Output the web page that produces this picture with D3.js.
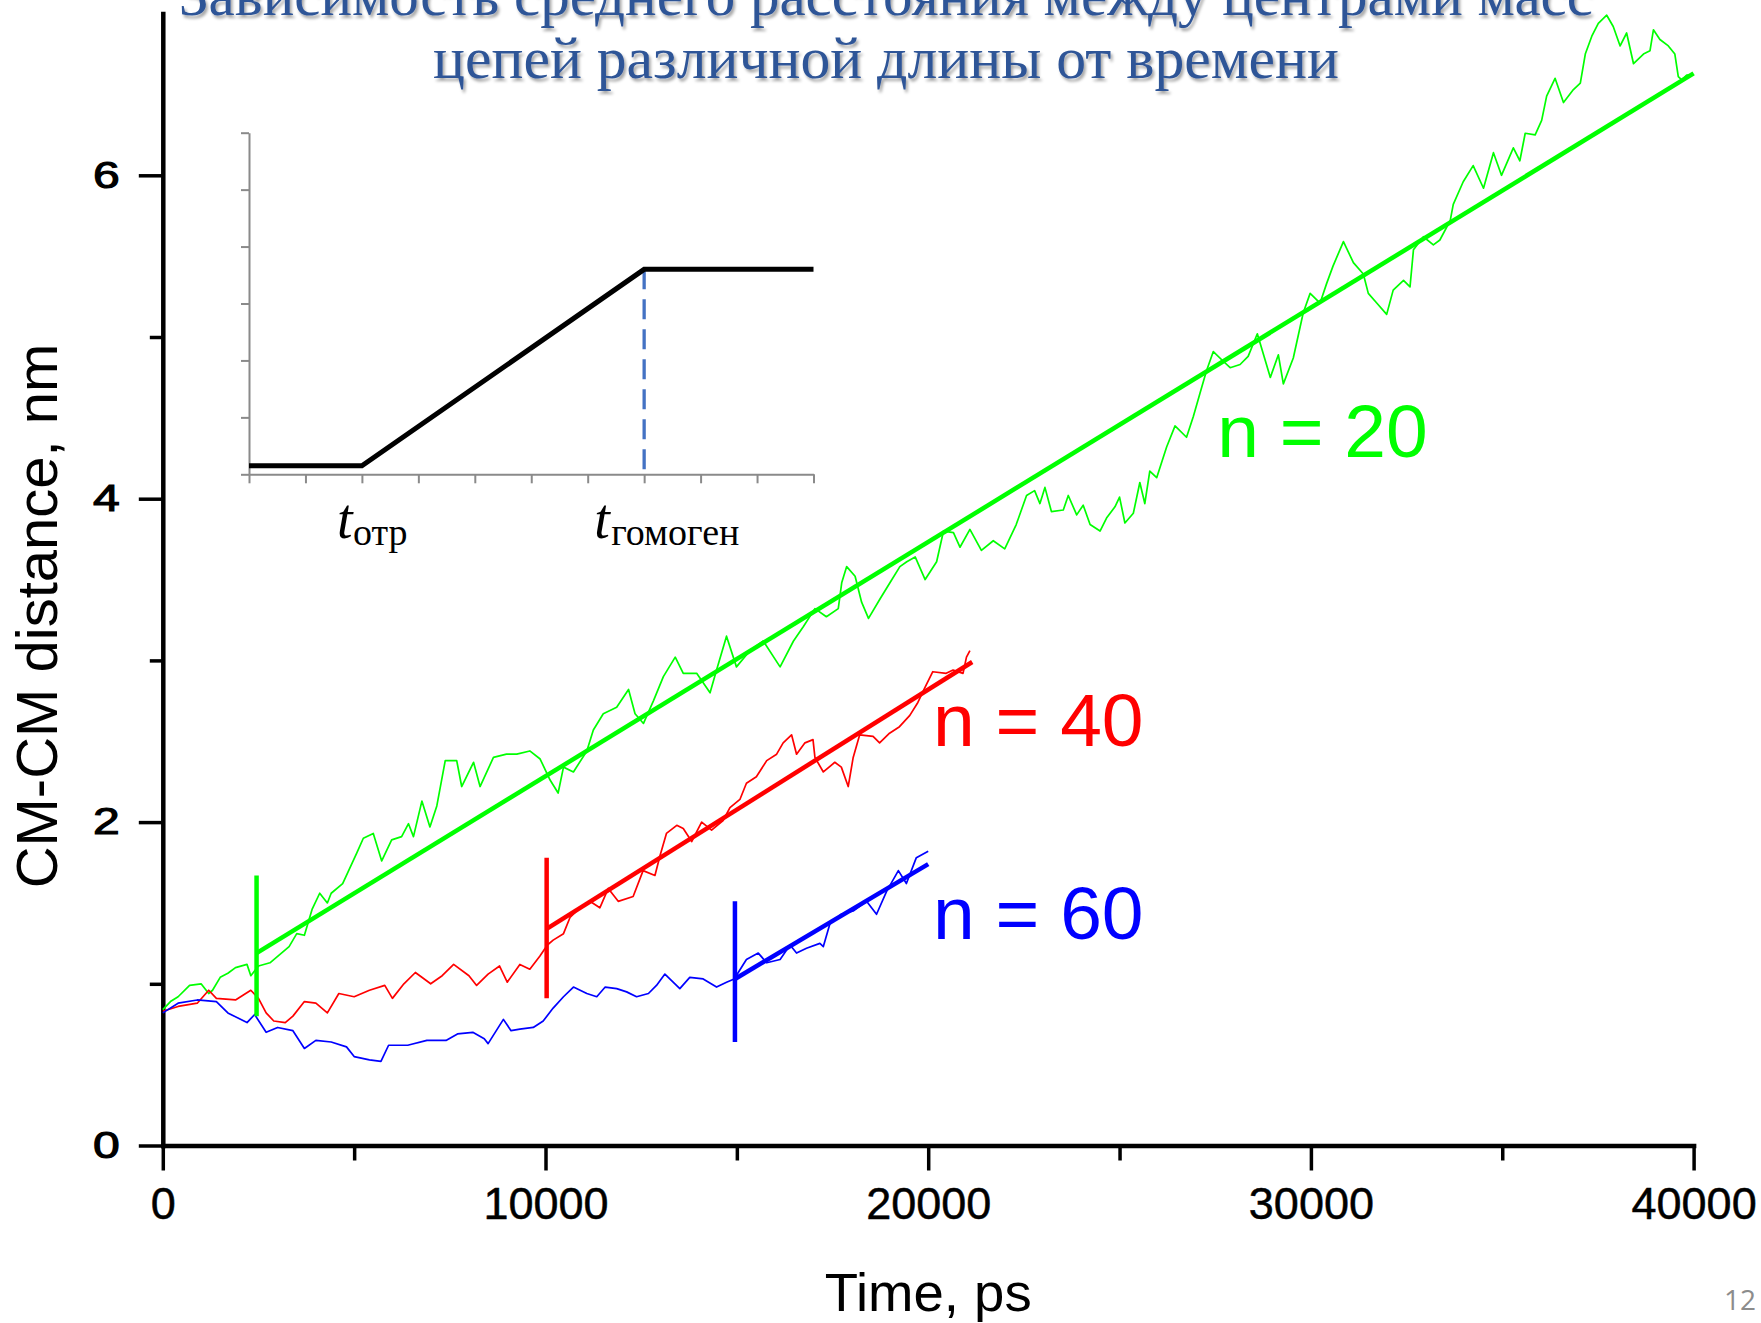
<!DOCTYPE html>
<html>
<head>
<meta charset="utf-8">
<script src="https://cdn.jsdelivr.net/npm/d3@7"></script>
<style>
body { margin: 0; background: #fff; }
svg { display: block; }
text { font-family: "Liberation Sans", Arial, sans-serif; }
</style>
</head>
<body>
<svg id="chart" width="1761" height="1323"></svg>
<script>
'use strict';

// ---- data (time in ps, distance in nm) ----
const titleLines = [
    'Зависимость среднего расстояния между центрами масс',
    'цепей различной длины от времени'
];

const xMajor = [0, 10000, 20000, 30000, 40000];
const xMinor = [5000, 15000, 25000, 35000];
const yMajor = [0, 2, 4, 6];
const yMinor = [1, 3, 5];

const n20 = [
    [0, 0.84], [200, 0.89], [400, 0.92], [700, 0.99], [1000, 1.00], [1200, 0.94], [1300, 0.96],
    [1500, 1.04], [1700, 1.065], [1900, 1.10], [2200, 1.12], [2300, 1.05], [2500, 1.11], [2800, 1.13],
    [3100, 1.19], [3300, 1.23], [3500, 1.31], [3700, 1.30], [3900, 1.46], [4100, 1.56], [4300, 1.50],
    [4400, 1.56], [4700, 1.62], [5070, 1.81], [5240, 1.90], [5500, 1.93], [5720, 1.76], [5980, 1.89],
    [6240, 1.91], [6420, 1.99], [6550, 1.91], [6770, 2.13], [6980, 1.97], [7160, 2.10], [7380, 2.38],
    [7680, 2.38], [7810, 2.22], [8120, 2.37], [8290, 2.22], [8640, 2.40], [8980, 2.42], [9250, 2.42],
    [9590, 2.44], [9860, 2.39], [10120, 2.26], [10330, 2.18], [10470, 2.34], [10730, 2.31], [11080, 2.44],
    [11250, 2.57], [11510, 2.67], [11860, 2.71], [12170, 2.82], [12340, 2.67], [12560, 2.61], [12820, 2.75],
    [13080, 2.90], [13390, 3.02], [13600, 2.92], [13950, 2.92], [14300, 2.80], [14470, 2.94], [14730, 3.15],
    [14990, 2.96], [15340, 3.06], [15690, 3.12], [16130, 2.96], [16480, 3.12], [16740, 3.21], [17040, 3.32],
    [17340, 3.27], [17650, 3.32], [17740, 3.48], [17870, 3.58], [18090, 3.52], [18260, 3.36], [18440, 3.26],
    [18740, 3.38], [19000, 3.48], [19260, 3.58], [19440, 3.61], [19660, 3.64], [19920, 3.50], [20220, 3.61],
    [20400, 3.80], [20660, 3.79], [20830, 3.70], [21090, 3.81], [21390, 3.68], [21700, 3.74], [22000, 3.69],
    [22300, 3.84], [22570, 4.02], [22780, 4.05], [22920, 3.97], [23050, 4.07], [23220, 3.92], [23530, 3.93],
    [23660, 4.02], [23880, 3.90], [24050, 3.96], [24230, 3.84], [24490, 3.80], [24660, 3.88], [24880, 3.95],
    [25000, 4.01], [25140, 3.85], [25360, 3.91], [25530, 4.10], [25660, 3.97], [25790, 4.17], [25970, 4.13],
    [26230, 4.32], [26450, 4.45], [26750, 4.38], [26930, 4.51], [27100, 4.65], [27270, 4.79], [27450, 4.91],
    [27710, 4.85], [27890, 4.81], [28150, 4.83], [28360, 4.88], [28600, 5.02], [28940, 4.75], [29150, 4.89],
    [29280, 4.71], [29540, 4.87], [29800, 5.15], [29980, 5.27], [30240, 5.21], [30410, 5.33], [30580, 5.44],
    [30850, 5.59], [31110, 5.46], [31370, 5.39], [31500, 5.27], [31720, 5.21], [31980, 5.14], [32150, 5.29],
    [32420, 5.35], [32590, 5.31], [32680, 5.54], [32940, 5.62], [33200, 5.57], [33370, 5.60], [33640, 5.72],
    [33720, 5.82], [33980, 5.96], [34240, 6.06], [34510, 5.92], [34770, 6.14], [34980, 6.00], [35290, 6.17],
    [35460, 6.09], [35600, 6.26], [35860, 6.25], [36030, 6.34], [36160, 6.49], [36380, 6.60], [36600, 6.45],
    [36860, 6.53], [37040, 6.57], [37170, 6.75], [37340, 6.86], [37510, 6.94], [37730, 6.99], [37900, 6.92],
    [38080, 6.80], [38250, 6.88], [38430, 6.69], [38690, 6.75], [38860, 6.77], [38950, 6.90], [39120, 6.84],
    [39340, 6.80], [39510, 6.75], [39600, 6.61], [39690, 6.59], [39820, 6.62], [40000, 6.62]
];

const n40 = [
    [0, 0.83], [400, 0.86], [900, 0.88], [1200, 0.96], [1400, 0.91], [1900, 0.90], [2300, 0.96],
    [2500, 0.91], [2700, 0.82], [2900, 0.77], [3200, 0.76], [3400, 0.80], [3700, 0.89], [4000, 0.88],
    [4300, 0.82], [4600, 0.94], [5000, 0.92], [5400, 0.96], [5800, 0.99], [6000, 0.91], [6300, 1.00],
    [6600, 1.07], [7000, 1.00], [7300, 1.05], [7600, 1.12], [8000, 1.05], [8200, 0.99], [8500, 1.06],
    [8800, 1.11], [9000, 1.01], [9330, 1.12], [9590, 1.09], [9850, 1.17], [10050, 1.24], [10200, 1.27],
    [10470, 1.31], [10640, 1.41], [10900, 1.47], [11160, 1.51], [11420, 1.47], [11640, 1.59], [11900, 1.51],
    [12290, 1.54], [12550, 1.70], [12860, 1.67], [12990, 1.79], [13160, 1.93], [13430, 1.98], [13600, 1.96],
    [13820, 1.88], [14080, 2.00], [14340, 1.95], [14640, 2.01], [14820, 2.09], [15080, 2.14], [15250, 2.24],
    [15510, 2.28], [15780, 2.38], [16040, 2.42], [16210, 2.49], [16430, 2.54], [16560, 2.42], [16780, 2.49],
    [16990, 2.51], [17040, 2.40], [17260, 2.31], [17560, 2.37], [17730, 2.34], [17910, 2.22], [18040, 2.40],
    [18210, 2.54], [18560, 2.53], [18730, 2.49], [18990, 2.55], [19250, 2.59], [19520, 2.66], [19730, 2.74],
    [19910, 2.83], [20120, 2.93], [20470, 2.92], [20650, 2.94], [20910, 2.92], [21000, 3.02], [21090, 3.06]
];

const n60 = [
    [0, 0.82], [400, 0.88], [900, 0.90], [1400, 0.89], [1700, 0.82], [2200, 0.76], [2400, 0.81],
    [2700, 0.70], [3000, 0.73], [3400, 0.71], [3700, 0.60], [4000, 0.65], [4400, 0.64], [4800, 0.61],
    [5000, 0.55], [5400, 0.53], [5700, 0.52], [5900, 0.62], [6400, 0.62], [6900, 0.65], [7400, 0.65],
    [7700, 0.69], [8100, 0.70], [8400, 0.66], [8500, 0.63], [8900, 0.78], [9100, 0.71], [9330, 0.72],
    [9680, 0.73], [9940, 0.77], [10200, 0.85], [10470, 0.92], [10730, 0.98], [11080, 0.94], [11340, 0.92],
    [11560, 0.98], [11860, 0.97], [12120, 0.95], [12380, 0.92], [12690, 0.94], [12900, 0.99], [13120, 1.06],
    [13510, 0.97], [13770, 1.04], [14120, 1.03], [14470, 0.98], [14730, 1.01], [14930, 1.03], [15250, 1.15],
    [15560, 1.19], [15780, 1.13], [16130, 1.15], [16390, 1.24], [16560, 1.19], [16820, 1.22], [17170, 1.25],
    [17260, 1.23], [17430, 1.37], [17730, 1.43], [18040, 1.45], [18390, 1.51], [18650, 1.43], [18910, 1.57],
    [19220, 1.70], [19430, 1.62], [19690, 1.78], [20000, 1.82]
];

// linear fits after the break point
const fit20 = [[2450, 1.19], [40000, 6.63]];
const fit40 = [[10030, 1.34], [21150, 2.99]];
const fit60 = [[14950, 1.03], [20000, 1.74]];

// break markers: [time, low, high]
const mark20 = [2450, 0.80, 1.67];
const mark40 = [10030, 0.91, 1.78];
const mark60 = [14950, 0.64, 1.51];

const seriesNames = ['n = 20', 'n = 40', 'n = 60'];
const labelAt = [[27550, 4.26], [20125, 2.47], [20125, 1.28]];

// inset scheme
const insetCurve = [[0, 0.15], [2, 0.15], [7, 3.6], [10, 3.6]];
const insetBreak = 7;
const insetStart = 2;

// ---- drawing ----
const colors = ['#00ff00', '#ff0000', '#0000ff'];
const svg = d3.select('#chart');

const x = d3.scaleLinear().domain([0, 40000]).range([162.8, 1693.6]);
const y = d3.scaleLinear().domain([0, 7]).range([1145.5, 13.6]);

const defs = svg.append('defs');
const shadow = defs.append('filter').attr('id', 'shadow')
    .attr('x', '-5%').attr('y', '-30%').attr('width', '110%').attr('height', '170%');
shadow.append('feDropShadow')
    .attr('dx', 2).attr('dy', 3).attr('stdDeviation', 1.6)
    .attr('flood-color', '#000').attr('flood-opacity', 0.35);

// title (the first line runs off the top edge, as on the slide)
const titleLen = [1414, 906];
const titleBase = [15, 78];
svg.selectAll('.title')
    .data(titleLines)
    .enter().append('text')
    .attr('class', 'title')
    .attr('x', 886)
    .attr('y', (d, i) => titleBase[i])
    .attr('text-anchor', 'middle')
    .attr('textLength', (d, i) => titleLen[i])
    .attr('lengthAdjust', 'spacingAndGlyphs')
    .style('font-family', '"Liberation Serif", "Times New Roman", serif')
    .style('font-size', '60px')
    .style('fill', '#2f5597')
    .attr('filter', 'url(#shadow)')
    .text(d => d);

// inset
const ix = d3.scaleLinear().domain([0, 10]).range([249, 813.5]);
const iy = d3.scaleLinear().domain([0, 6]).range([474.3, 132.7]);
const inset = svg.append('g').attr('class', 'inset');

inset.append('g')
    .attr('transform', `translate(0,${iy(0)})`)
    .call(d3.axisBottom(ix).ticks(10).tickSize(9).tickSizeOuter(0).tickFormat(''));
inset.append('g')
    .attr('transform', `translate(${ix(0)},0)`)
    .call(d3.axisLeft(iy).ticks(6).tickSize(8).tickSizeOuter(0).tickFormat(''));
inset.selectAll('path.domain, .tick line')
    .attr('stroke', '#8a8a8a').attr('stroke-width', 2);

inset.append('line')
    .attr('x1', ix(insetBreak)).attr('x2', ix(insetBreak))
    .attr('y1', iy(3.6)).attr('y2', iy(0.07))
    .attr('stroke', '#4472c4').attr('stroke-width', 3.3)
    .attr('stroke-dasharray', '20 10');

inset.append('path')
    .datum(insetCurve)
    .attr('d', d3.line().x(d => ix(d[0])).y(d => iy(d[1])))
    .attr('fill', 'none').attr('stroke', '#000').attr('stroke-width', 5);

const serif = '"Liberation Serif", "Times New Roman", serif';
function insetLabel(px, sub, subDx) {
    inset.append('text')
        .attr('x', px).attr('y', iy(0) + 64)
        .style('font-family', serif).style('font-style', 'italic').style('font-size', '56px')
        .text('t');
    inset.append('text')
        .attr('x', px + subDx).attr('y', iy(0) + 71)
        .style('font-family', serif).style('font-size', '38px')
        .text(sub);
}
insetLabel(ix(insetStart) - 25, 'отр', 16);
insetLabel(ix(insetBreak) - 50, 'гомоген', 17);

// main axes
const axes = svg.append('g').attr('class', 'axes');
const gx = axes.append('g')
    .attr('transform', `translate(0,${y(0)})`)
    .call(d3.axisBottom(x).tickValues(xMajor).tickSize(25).tickSizeOuter(0)
        .tickPadding(17).tickFormat(d3.format('d')));
axes.append('g')
    .attr('transform', `translate(0,${y(0)})`)
    .call(d3.axisBottom(x).tickValues(xMinor).tickSize(15).tickSizeOuter(0).tickFormat(''))
    .call(g => g.select('.domain').remove());

const gy = axes.append('g')
    .attr('transform', `translate(${x(0)},0)`)
    .call(d3.axisLeft(y).tickValues(yMajor).tickSize(24).tickSizeOuter(0)
        .tickPadding(19).tickFormat(d3.format('d')));
axes.append('g')
    .attr('transform', `translate(${x(0)},0)`)
    .call(d3.axisLeft(y).tickValues(yMinor).tickSize(13).tickSizeOuter(0).tickFormat(''))
    .call(g => g.select('.domain').remove());

axes.selectAll('.domain').attr('stroke', '#000').attr('stroke-width', 4.5).attr('stroke-linecap', 'square');
axes.selectAll('.tick line').attr('stroke', '#000').attr('stroke-width', 3.5);

gx.selectAll('.tick text')
    .style('font-family', '"Liberation Sans", Arial, sans-serif')
    .style('font-size', '45px').style('fill', '#000')
    .style('stroke', '#000').style('stroke-width', 0.5);
gy.selectAll('.tick text')
    .style('font-family', '"Liberation Sans", Arial, sans-serif')
    .style('font-size', '37px').style('fill', '#000')
    .style('stroke', '#000').style('stroke-width', 1.1)
    .each(function () {
        const len = this.getComputedTextLength();
        d3.select(this).attr('textLength', len * 1.3).attr('lengthAdjust', 'spacingAndGlyphs');
    });

svg.append('text')
    .attr('x', (x.range()[0] + x.range()[1]) / 2).attr('y', 1311)
    .attr('text-anchor', 'middle')
    .style('font-size', '54.5px')
    .text('Time, ps');

svg.append('text')
    .attr('transform', 'translate(57,616) rotate(-90)')
    .attr('text-anchor', 'middle')
    .style('font-size', '58px')
    .text('CM-CM distance, nm');

// series
const line = d3.line().x(d => x(d[0])).y(d => y(d[1]));
const series = [n20, n40, n60];
const fits = [fit20, fit40, fit60];
const marks = [mark20, mark40, mark60];

svg.selectAll('.raw')
    .data(series)
    .enter().append('path')
    .attr('class', 'raw')
    .attr('d', line)
    .attr('fill', 'none')
    .attr('stroke', (d, i) => colors[i])
    .attr('stroke-width', 1.7)
    .attr('stroke-linejoin', 'round');

svg.selectAll('.fit')
    .data(fits)
    .enter().append('path')
    .attr('class', 'fit')
    .attr('d', line)
    .attr('fill', 'none')
    .attr('stroke', (d, i) => colors[i])
    .attr('stroke-width', 4.5);

svg.selectAll('.mark')
    .data(marks)
    .enter().append('line')
    .attr('class', 'mark')
    .attr('x1', d => x(d[0])).attr('x2', d => x(d[0]))
    .attr('y1', d => y(d[1])).attr('y2', d => y(d[2]))
    .attr('stroke', (d, i) => colors[i])
    .attr('stroke-width', 4.5);

svg.selectAll('.nlabel')
    .data(seriesNames)
    .enter().append('text')
    .attr('class', 'nlabel')
    .attr('x', (d, i) => x(labelAt[i][0]))
    .attr('y', (d, i) => y(labelAt[i][1]))
    .style('font-size', '75px')
    .style('fill', (d, i) => colors[i])
    .text(d => d);

// slide number
svg.append('text')
    .attr('x', 1756).attr('y', 1310)
    .attr('text-anchor', 'end')
    .style('font-family', '"Open Sans", sans-serif')
    .style('font-size', '28px')
    .style('fill', '#8c8c8c')
    .text('12');
</script>
</body>
</html>
